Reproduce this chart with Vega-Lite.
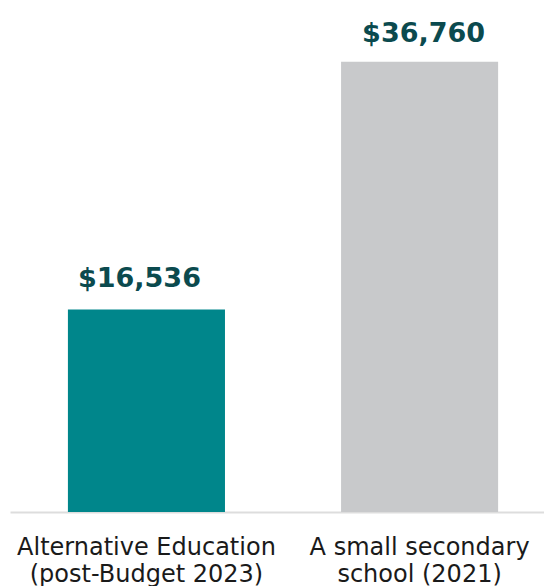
{
  "$schema": "https://vega.github.io/schema/vega-lite/v6.json",
  "width": 534,
  "height": 490,
  "autosize": {"type": "none"},
  "padding": {"left": 10, "top": 22, "right": 0, "bottom": 74},
  "background": "white",
  "config": {"view": {"stroke": null}, "font": "DejaVu Sans"},
  "data": {"values": [
    {"category": "Alternative Education|(post-Budget 2023)", "value": 16536, "label": "$16,536", "color": "teal"},
    {"category": "A small secondary|school (2021)", "value": 36760, "label": "$36,760", "color": "gray"}
  ]},
  "encoding": {
    "x": {"field": "category", "type": "nominal", "sort": null,
      "scale": {"paddingInner": 0.425, "paddingOuter": 0.19, "align": 0.558},
      "axis": {"title": null, "labelAngle": 0, "ticks": false, "domainColor": "#dddddd", "domainWidth": 2,
        "labelFontSize": 24, "labelColor": "#1a1a1a", "labelPadding": 23, "labelLineHeight": 27, "labelLimit": 0,
        "labelExpr": "split(datum.value, '|')", "labelFont": "DejaVu Sans"}},
    "y": {"field": "value", "type": "quantitative", "scale": {"domain": [0, 40000]}, "axis": null}
  },
  "layer": [
    {"mark": {"type": "bar"},
     "encoding": {"color": {"field": "color", "type": "nominal", "scale": {"domain": ["teal", "gray"], "range": ["#00868b", "#c8c9cb"]}, "legend": null}}},
    {"transform": [{"filter": "datum.color == 'teal'"}],
     "mark": {"type": "text", "dy": -22, "dx": -7, "baseline": "alphabetic", "fontSize": 27, "letterSpacing": 0.6, "fontWeight": "bold", "color": "#0b4a4e", "font": "DejaVu Sans"},
     "encoding": {"text": {"field": "label"}}},
    {"transform": [{"filter": "datum.color == 'gray'"}],
     "mark": {"type": "text", "dy": -20, "dx": 4, "baseline": "alphabetic", "fontSize": 27, "letterSpacing": 0.6, "fontWeight": "bold", "color": "#0b4a4e", "font": "DejaVu Sans"},
     "encoding": {"text": {"field": "label"}}}
  ]
}
